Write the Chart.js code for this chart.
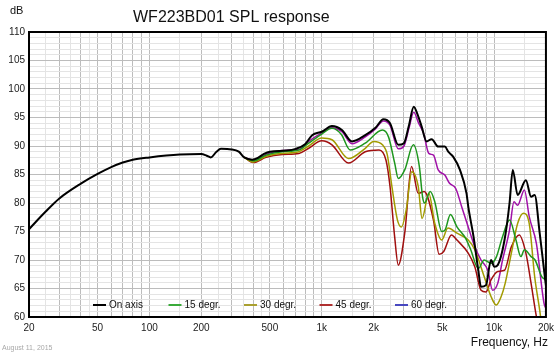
<!DOCTYPE html>
<html>
<head>
<meta charset="utf-8">
<script src="https://cdn.jsdelivr.net/npm/chart.js@4/dist/chart.umd.min.js"></script>
<style>
html,body{margin:0;padding:0;background:#fff;}
canvas{display:block;}
</style>
</head>
<body>
<canvas id="c" width="559" height="356"></canvas>
<script>
// ---- data ----
const seriesLabels = ["On axis", "15 degr.", "30 degr.", "45 degr.", "60 degr."];

const onAxisFreq = [20,25,30,40,50,60,70,80,100,150,200,215,227,245,260,300,330,355,395,430,462,500,618,706,800,880,1000,1146,1309,1497,1788,2050,2280,2490,2780,3000,3200,3420,3600,3800,4060,4340,4740,5180,5420,5800,6340,6920,7080,7600,8100,8400,8980,9600,10040,10500,11500,12300,12840,13700,15300,16400,17200,18400,19700,20000];
const onAxisDb   = [75.4,78.5,80.8,83.4,85.1,86.3,87.1,87.6,88.0,88.5,88.6,88.3,88.0,89.0,89.5,89.4,89.0,88.0,87.6,88.0,88.6,89.0,89.2,89.5,90.3,91.9,92.5,93.5,92.8,90.8,91.9,93.2,94.7,94.0,90.2,90.5,93.5,96.9,95.5,93.4,90.8,91.2,89.9,89.9,89.0,88.1,85.8,81.7,79.4,74.1,68.2,65.3,65.6,70.0,68.8,69.1,73.5,80.0,85.8,81.4,84.0,81.1,81.4,74.7,67.1,65.5];

const deg15Freq = [355,400,475,590,736,840,1000,1146,1300,1460,1788,2250,2440,2650,2780,3030,3400,3680,3850,3950,4260,4530,4970,5200,5580,6090,6840,7320,8100,8760,9600,10300,11200,12300,13400,14300,15000,16400,17300,18900,20000];
const deg15Db   = [88.0,87.4,88.4,89.0,89.3,90.5,92.1,93.1,92.0,89.3,90.5,92.8,91.6,87.0,84.3,85.8,90.2,86.5,81.0,80.0,82.0,80.2,75.0,75.3,78.0,75.8,73.8,71.8,68.5,70.0,69.4,70.5,74.1,77.0,73.5,70.6,71.8,70.6,70.0,67.1,66.5];

const deg30Freq = [355,400,475,590,736,840,1000,1146,1430,1788,2000,2250,2400,2550,2750,2900,3100,3330,3630,3820,4180,4530,4970,5400,6090,7080,7730,8760,9600,10300,11000,11600,12600,13700,14800,16000,17200,18400,19000];
const deg30Db   = [88.0,87.2,88.2,88.7,89.0,90.0,91.4,91.1,87.8,89.6,90.8,90.2,88.5,83.0,77.0,75.8,79.0,85.5,82.9,77.3,81.7,76.4,73.5,75.6,74.7,73.5,71.8,67.1,63.6,62.1,63.6,65.9,71.2,76.4,78.2,76.4,67.1,61.2,58.0];

const deg45Freq = [355,400,475,590,736,840,1000,1146,1430,1788,2150,2360,2490,2650,2780,3030,3320,3630,3930,4450,4800,5100,5660,6090,7080,7730,8400,8980,9600,10500,11500,12600,14000,15300,16400,17600,18500];
const deg45Db   = [88.0,87.1,88.0,88.5,88.7,89.6,90.9,90.2,87.0,89.0,89.3,87.5,82.9,74.0,69.1,74.7,86.4,81.7,82.0,77.0,71.0,71.5,74.4,73.5,71.2,68.8,64.7,64.4,66.5,68.0,68.2,72.3,74.4,71.2,65.9,60.1,57.0];

const deg60Freq = [355,400,475,590,750,840,1000,1146,1309,1497,1788,2050,2280,2490,2780,3000,3200,3420,3650,3900,4180,4450,4740,5180,5500,6000,6480,7080,7730,8400,9200,9800,10500,11200,12300,13050,13700,15000,16000,17600,19500,20000];
const deg60Db   = [88.0,87.5,88.5,89.2,89.5,90.8,92.3,93.2,92.5,90.4,91.6,93.0,94.4,93.6,89.5,90.0,93.0,95.9,94.0,92.2,88.7,88.4,85.8,84.9,83.5,82.5,79.4,75.8,72.3,70.0,68.2,64.7,65.9,70.0,75.3,80.2,79.6,82.3,77.6,72.9,62.4,61.5];

const xLabelValues = [20,50,100,200,500,1000,2000,5000,10000,20000];
const yMin = 60, yMax = 110;

// ---- styles ----
const curveColors  = ["#000000", "#1e961e", "#a29b00", "#a00f0f", "#a010a8"];
const legendColors = ["#000000", "#3aaa3a", "#aaa030", "#b03030", "#4848c0"];
const curveWidths  = [2, 1.5, 1.5, 1.5, 1.5];

function pts(f, d) { return f.map((x, i) => ({ x: x, y: d[i] })); }
const freqArrays = [onAxisFreq, deg15Freq, deg30Freq, deg45Freq, deg60Freq];
const dbArrays   = [onAxisDb, deg15Db, deg30Db, deg45Db, deg60Db];

const datasets = seriesLabels.map((lab, i) => ({
  label: lab,
  data: pts(freqArrays[i], dbArrays[i]),
  borderColor: curveColors[i],
  backgroundColor: curveColors[i],
  borderWidth: curveWidths[i],
  pointRadius: 0,
  fill: false,
  cubicInterpolationMode: 'monotone'
}));

// grid values on the log axis
const majorMult = [1,2,3,4,5,6,7,8,9];
const minorMult = [1.5,2.5,3.5,4.5];
const xGrid = [];
[1,10,100,1000,10000].forEach(d => {
  majorMult.forEach(m => xGrid.push({ v: Math.round(m * d * 1000) / 1000, major: true }));
  minorMult.forEach(m => xGrid.push({ v: Math.round(m * d * 1000) / 1000, major: false }));
});
const xTicks = xGrid.filter(t => t.v >= 20 && t.v <= 20000).sort((a, b) => a.v - b.v);
const majorSet = new Set(xTicks.filter(t => t.major).map(t => t.v));

function fmtFreq(v) { return v >= 1000 ? (v / 1000) + 'k' : String(v); }

const decorPlugin = {
  id: 'decor',
  afterDatasetsDraw(chart) {
    const ctx = chart.ctx, a = chart.chartArea;
    ctx.save();
    // frame
    ctx.strokeStyle = '#000';
    ctx.lineWidth = 2;
    ctx.strokeRect(a.left, a.top, a.right - a.left, a.bottom - a.top);
    // legend inside plot
    ctx.font = '10px "Liberation Sans", Arial, sans-serif';
    ctx.textBaseline = 'middle';
    ctx.textAlign = 'left';
    const ly = a.top + (305 - 32);
    const startX = a.left + (93 - 29);
    const step = 75.5;
    seriesLabels.forEach((lab, i) => {
      const x0 = startX + i * step;
      ctx.strokeStyle = legendColors[i];
      ctx.lineWidth = 2;
      ctx.beginPath();
      ctx.moveTo(x0, ly);
      ctx.lineTo(x0 + 13, ly);
      ctx.stroke();
      ctx.fillStyle = '#111';
      ctx.fillText(lab, x0 + 16, ly);
    });
    ctx.restore();
  },
  afterDraw(chart) {
    const ctx = chart.ctx;
    ctx.save();
    ctx.fillStyle = '#111';
    ctx.textBaseline = 'middle';
    ctx.font = '16px "Liberation Sans", Arial, sans-serif';
    ctx.textAlign = 'left';
    ctx.fillText('WF223BD01 SPL response', 133, 18);
    ctx.font = '11px "Liberation Sans", Arial, sans-serif';
    ctx.fillText('dB', 10, 11);
    ctx.font = '12px "Liberation Sans", Arial, sans-serif';
    ctx.textAlign = 'right';
    ctx.fillText('Frequency, Hz', 548, 343);
    ctx.font = '7px "Liberation Sans", Arial, sans-serif';
    ctx.fillStyle = '#a8a8a8';
    ctx.textAlign = 'left';
    ctx.fillText('August 11, 2015', 2, 348);
    ctx.restore();
  }
};

new Chart(document.getElementById('c'), {
  type: 'line',
  data: { datasets: datasets },
  options: {
    responsive: false,
    animation: false,
    events: [],
    layout: { padding: { left: 0, top: 32, right: 11, bottom: 0 } },
    plugins: { legend: { display: false }, title: { display: false }, tooltip: { enabled: false } },
    scales: {
      x: {
        type: 'logarithmic',
        min: 20,
        max: 20000,
        afterBuildTicks(scale) { scale.ticks = xTicks.map(t => ({ value: t.v })); },
        afterFit(scale) { scale.height = 39; },
        border: { display: false },
        grid: {
          drawTicks: false,
          color: c => (c.tick && majorSet.has(c.tick.value)) ? '#bcbcbc' : '#e4e4e4',
          lineWidth: 1
        },
        ticks: {
          autoSkip: false,
          maxRotation: 0,
          padding: 5,
          color: '#222',
          font: { family: '"Liberation Sans", Arial, sans-serif', size: 10 },
          callback: v => xLabelValues.includes(v) ? fmtFreq(v) : ''
        }
      },
      y: {
        min: yMin,
        max: yMax,
        afterFit(scale) { scale.width = 29; },
        border: { display: false },
        grid: {
          drawTicks: false,
          color: c => (c.tick && c.tick.value % 5 === 0) ? '#bcbcbc' : '#e4e4e4',
          lineWidth: 1
        },
        ticks: {
          stepSize: 1,
          autoSkip: false,
          padding: 4,
          color: '#222',
          font: { family: '"Liberation Sans", Arial, sans-serif', size: 10 },
          callback: v => v % 5 === 0 ? String(v) : ''
        }
      }
    }
  },
  plugins: [decorPlugin]
});
</script>
</body>
</html>
